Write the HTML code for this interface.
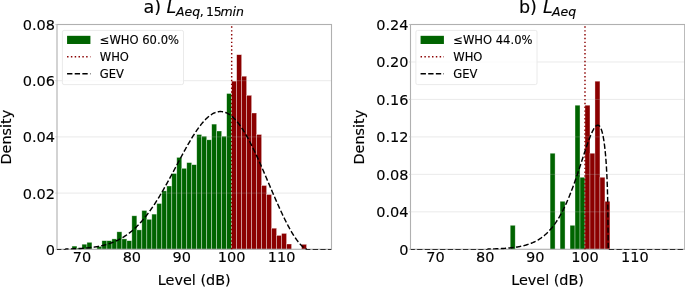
<!DOCTYPE html>
<html><head><meta charset="utf-8"><title>Level density</title>
<style>html,body{margin:0;padding:0;background:#fff}svg{display:block}text{font-family:"DejaVu Sans","Liberation Sans",sans-serif;fill:#000;stroke:#000;stroke-width:0.14px}</style>
</head><body>
<svg width="685" height="287" viewBox="0 0 685 287">
<rect width="685" height="287" fill="#fff"/>
<rect x="71.97" y="246.1" width="4.99" height="3.2" fill="#006400" stroke="#fff" stroke-width="0.6" stroke-opacity="0.58"/>
<rect x="76.96" y="248.1" width="4.99" height="1.2" fill="#006400" stroke="#fff" stroke-width="0.6" stroke-opacity="0.58"/>
<rect x="81.95" y="244.2" width="4.99" height="5.1" fill="#006400" stroke="#fff" stroke-width="0.6" stroke-opacity="0.58"/>
<rect x="86.95" y="242.3" width="4.99" height="7" fill="#006400" stroke="#fff" stroke-width="0.6" stroke-opacity="0.58"/>
<rect x="96.93" y="246.4" width="4.99" height="2.9" fill="#006400" stroke="#fff" stroke-width="0.6" stroke-opacity="0.58"/>
<rect x="101.92" y="240.7" width="4.99" height="8.6" fill="#006400" stroke="#fff" stroke-width="0.6" stroke-opacity="0.58"/>
<rect x="106.91" y="240.7" width="4.99" height="8.6" fill="#006400" stroke="#fff" stroke-width="0.6" stroke-opacity="0.58"/>
<rect x="111.9" y="238.9" width="4.99" height="10.4" fill="#006400" stroke="#fff" stroke-width="0.6" stroke-opacity="0.58"/>
<rect x="116.89" y="231.8" width="4.99" height="17.5" fill="#006400" stroke="#fff" stroke-width="0.6" stroke-opacity="0.58"/>
<rect x="121.88" y="238.9" width="4.99" height="10.4" fill="#006400" stroke="#fff" stroke-width="0.6" stroke-opacity="0.58"/>
<rect x="126.87" y="240.7" width="4.99" height="8.6" fill="#006400" stroke="#fff" stroke-width="0.6" stroke-opacity="0.58"/>
<rect x="131.86" y="215.8" width="4.99" height="33.5" fill="#006400" stroke="#fff" stroke-width="0.6" stroke-opacity="0.58"/>
<rect x="136.85" y="229.9" width="4.99" height="19.4" fill="#006400" stroke="#fff" stroke-width="0.6" stroke-opacity="0.58"/>
<rect x="141.85" y="210.5" width="4.99" height="38.8" fill="#006400" stroke="#fff" stroke-width="0.6" stroke-opacity="0.58"/>
<rect x="146.84" y="219.3" width="4.99" height="30" fill="#006400" stroke="#fff" stroke-width="0.6" stroke-opacity="0.58"/>
<rect x="151.83" y="214.1" width="4.99" height="35.2" fill="#006400" stroke="#fff" stroke-width="0.6" stroke-opacity="0.58"/>
<rect x="156.82" y="203.5" width="4.99" height="45.8" fill="#006400" stroke="#fff" stroke-width="0.6" stroke-opacity="0.58"/>
<rect x="161.81" y="190.9" width="4.99" height="58.4" fill="#006400" stroke="#fff" stroke-width="0.6" stroke-opacity="0.58"/>
<rect x="166.8" y="186" width="4.99" height="63.3" fill="#006400" stroke="#fff" stroke-width="0.6" stroke-opacity="0.58"/>
<rect x="171.79" y="173.5" width="4.99" height="75.8" fill="#006400" stroke="#fff" stroke-width="0.6" stroke-opacity="0.58"/>
<rect x="176.78" y="157.4" width="4.99" height="91.9" fill="#006400" stroke="#fff" stroke-width="0.6" stroke-opacity="0.58"/>
<rect x="181.77" y="168.3" width="4.99" height="81" fill="#006400" stroke="#fff" stroke-width="0.6" stroke-opacity="0.58"/>
<rect x="186.76" y="162.6" width="4.99" height="86.7" fill="#006400" stroke="#fff" stroke-width="0.6" stroke-opacity="0.58"/>
<rect x="191.75" y="164.7" width="4.99" height="84.6" fill="#006400" stroke="#fff" stroke-width="0.6" stroke-opacity="0.58"/>
<rect x="196.75" y="134.5" width="4.99" height="114.8" fill="#006400" stroke="#fff" stroke-width="0.6" stroke-opacity="0.58"/>
<rect x="201.74" y="136.2" width="4.99" height="113.1" fill="#006400" stroke="#fff" stroke-width="0.6" stroke-opacity="0.58"/>
<rect x="206.73" y="139.8" width="4.99" height="109.5" fill="#006400" stroke="#fff" stroke-width="0.6" stroke-opacity="0.58"/>
<rect x="211.72" y="124.1" width="4.99" height="125.2" fill="#006400" stroke="#fff" stroke-width="0.6" stroke-opacity="0.58"/>
<rect x="216.71" y="131" width="4.99" height="118.3" fill="#006400" stroke="#fff" stroke-width="0.6" stroke-opacity="0.58"/>
<rect x="221.7" y="136.2" width="4.99" height="113.1" fill="#006400" stroke="#fff" stroke-width="0.6" stroke-opacity="0.58"/>
<rect x="226.69" y="93.5" width="4.99" height="155.8" fill="#006400" stroke="#fff" stroke-width="0.6" stroke-opacity="0.58"/>
<rect x="231.68" y="81.1" width="4.99" height="168.2" fill="#8b0000" stroke="#fff" stroke-width="0.6" stroke-opacity="0.58"/>
<rect x="236.67" y="54.7" width="4.99" height="194.6" fill="#8b0000" stroke="#fff" stroke-width="0.6" stroke-opacity="0.58"/>
<rect x="241.66" y="76.2" width="4.99" height="173.1" fill="#8b0000" stroke="#fff" stroke-width="0.6" stroke-opacity="0.58"/>
<rect x="246.65" y="95.3" width="4.99" height="154" fill="#8b0000" stroke="#fff" stroke-width="0.6" stroke-opacity="0.58"/>
<rect x="251.65" y="113" width="4.99" height="136.3" fill="#8b0000" stroke="#fff" stroke-width="0.6" stroke-opacity="0.58"/>
<rect x="256.64" y="134.5" width="4.99" height="114.8" fill="#8b0000" stroke="#fff" stroke-width="0.6" stroke-opacity="0.58"/>
<rect x="261.63" y="185.5" width="4.99" height="63.8" fill="#8b0000" stroke="#fff" stroke-width="0.6" stroke-opacity="0.58"/>
<rect x="266.62" y="194.5" width="4.99" height="54.8" fill="#8b0000" stroke="#fff" stroke-width="0.6" stroke-opacity="0.58"/>
<rect x="271.61" y="228.2" width="4.99" height="21.1" fill="#8b0000" stroke="#fff" stroke-width="0.6" stroke-opacity="0.58"/>
<rect x="276.6" y="235.4" width="4.99" height="13.9" fill="#8b0000" stroke="#fff" stroke-width="0.6" stroke-opacity="0.58"/>
<rect x="281.59" y="233.4" width="4.99" height="15.9" fill="#8b0000" stroke="#fff" stroke-width="0.6" stroke-opacity="0.58"/>
<rect x="286.58" y="244" width="4.99" height="5.3" fill="#8b0000" stroke="#fff" stroke-width="0.6" stroke-opacity="0.58"/>
<rect x="301.55" y="244.3" width="4.99" height="5" fill="#8b0000" stroke="#fff" stroke-width="0.6" stroke-opacity="0.58"/>
<line x1="57" x2="331.5" y1="249.3" y2="249.3" stroke="#b0b0b0" stroke-opacity="0.27" stroke-width="1"/>
<line x1="57" x2="331.5" y1="193.1" y2="193.1" stroke="#b0b0b0" stroke-opacity="0.27" stroke-width="1"/>
<line x1="57" x2="331.5" y1="136.9" y2="136.9" stroke="#b0b0b0" stroke-opacity="0.27" stroke-width="1"/>
<line x1="57" x2="331.5" y1="80.7" y2="80.7" stroke="#b0b0b0" stroke-opacity="0.27" stroke-width="1"/>
<line x1="57" x2="331.5" y1="24.5" y2="24.5" stroke="#b0b0b0" stroke-opacity="0.27" stroke-width="1"/>
<rect x="57" y="24.5" width="274.5" height="224.8" fill="none" stroke="#b0b0b0" stroke-width="1.1"/>
<line x1="231.68" x2="231.68" y1="249.3" y2="24.5" stroke="#8b0000" stroke-width="1.441" stroke-dasharray="1.441 2.378"/>
<clipPath id="c57"><rect x="57" y="24.5" width="274.5" height="225.35"/></clipPath>
<polyline points="57,249.8 57.46,249.8 57.92,249.8 58.37,249.8 58.83,249.8 59.29,249.8 59.75,249.8 60.21,249.8 60.67,249.8 61.12,249.8 61.58,249.8 62.04,249.8 62.5,249.8 62.96,249.8 63.42,249.8 63.87,249.8 64.33,249.8 64.79,249.8 65.25,249.8 65.71,249.04 66.17,249.03 66.62,249.02 67.08,249.01 67.54,249 68,248.99 68.46,248.98 68.91,248.96 69.37,248.95 69.83,248.94 70.29,248.92 70.75,248.91 71.21,248.9 71.66,248.88 72.12,248.86 72.58,248.85 73.04,248.83 73.5,248.81 73.96,248.8 74.41,248.78 74.87,248.76 75.33,248.74 75.79,248.72 76.25,248.7 76.71,248.67 77.16,248.65 77.62,248.63 78.08,248.6 78.54,248.58 79,248.55 79.45,248.53 79.91,248.5 80.37,248.47 80.83,248.44 81.29,248.41 81.75,248.38 82.2,248.35 82.66,248.32 83.12,248.29 83.58,248.25 84.04,248.22 84.5,248.18 84.95,248.14 85.41,248.1 85.87,248.06 86.33,248.02 86.79,247.98 87.25,247.93 87.7,247.89 88.16,247.84 88.62,247.79 89.08,247.75 89.54,247.69 89.99,247.64 90.45,247.59 90.91,247.53 91.37,247.48 91.83,247.42 92.29,247.36 92.74,247.3 93.2,247.24 93.66,247.17 94.12,247.1 94.58,247.04 95.04,246.97 95.49,246.89 95.95,246.82 96.41,246.74 96.87,246.67 97.33,246.59 97.79,246.5 98.24,246.42 98.7,246.33 99.16,246.25 99.62,246.15 100.08,246.06 100.54,245.97 100.99,245.87 101.45,245.77 101.91,245.66 102.37,245.56 102.83,245.45 103.28,245.34 103.74,245.23 104.2,245.11 104.66,244.99 105.12,244.87 105.58,244.75 106.03,244.62 106.49,244.49 106.95,244.35 107.41,244.22 107.87,244.08 108.33,243.94 108.78,243.79 109.24,243.64 109.7,243.49 110.16,243.33 110.62,243.17 111.08,243.01 111.53,242.84 111.99,242.67 112.45,242.5 112.91,242.32 113.37,242.14 113.82,241.95 114.28,241.76 114.74,241.57 115.2,241.37 115.66,241.17 116.12,240.96 116.57,240.75 117.03,240.54 117.49,240.32 117.95,240.1 118.41,239.87 118.87,239.64 119.32,239.4 119.78,239.16 120.24,238.91 120.7,238.66 121.16,238.41 121.62,238.15 122.07,237.88 122.53,237.61 122.99,237.34 123.45,237.06 123.91,236.77 124.36,236.48 124.82,236.18 125.28,235.88 125.74,235.58 126.2,235.27 126.66,234.95 127.11,234.63 127.57,234.3 128.03,233.97 128.49,233.63 128.95,233.28 129.41,232.93 129.86,232.57 130.32,232.21 130.78,231.84 131.24,231.47 131.7,231.09 132.16,230.71 132.61,230.31 133.07,229.92 133.53,229.51 133.99,229.1 134.45,228.69 134.9,228.26 135.36,227.84 135.82,227.4 136.28,226.96 136.74,226.51 137.2,226.06 137.65,225.6 138.11,225.13 138.57,224.66 139.03,224.18 139.49,223.69 139.95,223.2 140.4,222.7 140.86,222.2 141.32,221.69 141.78,221.17 142.24,220.64 142.7,220.11 143.15,219.57 143.61,219.03 144.07,218.48 144.53,217.92 144.99,217.36 145.44,216.79 145.9,216.21 146.36,215.63 146.82,215.04 147.28,214.44 147.74,213.84 148.19,213.23 148.65,212.61 149.11,211.99 149.57,211.36 150.03,210.73 150.49,210.09 150.94,209.44 151.4,208.79 151.86,208.13 152.32,207.46 152.78,206.79 153.24,206.11 153.69,205.43 154.15,204.74 154.61,204.04 155.07,203.34 155.53,202.63 155.98,201.92 156.44,201.2 156.9,200.47 157.36,199.74 157.82,199.01 158.28,198.27 158.73,197.52 159.19,196.77 159.65,196.01 160.11,195.25 160.57,194.48 161.03,193.71 161.48,192.94 161.94,192.16 162.4,191.37 162.86,190.58 163.32,189.79 163.78,188.99 164.23,188.19 164.69,187.38 165.15,186.57 165.61,185.76 166.07,184.94 166.53,184.12 166.98,183.29 167.44,182.46 167.9,181.63 168.36,180.8 168.82,179.96 169.27,179.12 169.73,178.28 170.19,177.44 170.65,176.59 171.11,175.74 171.57,174.89 172.02,174.04 172.48,173.18 172.94,172.33 173.4,171.47 173.86,170.61 174.32,169.75 174.77,168.89 175.23,168.03 175.69,167.17 176.15,166.31 176.61,165.45 177.07,164.59 177.52,163.72 177.98,162.86 178.44,162 178.9,161.14 179.36,160.29 179.81,159.43 180.27,158.57 180.73,157.72 181.19,156.87 181.65,156.01 182.11,155.17 182.56,154.32 183.02,153.48 183.48,152.64 183.94,151.8 184.4,150.96 184.86,150.13 185.31,149.3 185.77,148.48 186.23,147.66 186.69,146.84 187.15,146.03 187.61,145.23 188.06,144.42 188.52,143.63 188.98,142.83 189.44,142.05 189.9,141.27 190.35,140.49 190.81,139.72 191.27,138.96 191.73,138.2 192.19,137.45 192.65,136.71 193.1,135.98 193.56,135.25 194.02,134.53 194.48,133.81 194.94,133.11 195.4,132.41 195.85,131.72 196.31,131.04 196.77,130.37 197.23,129.7 197.69,129.05 198.15,128.4 198.6,127.77 199.06,127.14 199.52,126.53 199.98,125.92 200.44,125.33 200.89,124.74 201.35,124.16 201.81,123.6 202.27,123.05 202.73,122.51 203.19,121.97 203.64,121.46 204.1,120.95 204.56,120.45 205.02,119.97 205.48,119.49 205.94,119.04 206.39,118.59 206.85,118.15 207.31,117.73 207.77,117.32 208.23,116.92 208.69,116.54 209.14,116.17 209.6,115.82 210.06,115.47 210.52,115.14 210.98,114.83 211.43,114.53 211.89,114.24 212.35,113.96 212.81,113.7 213.27,113.46 213.73,113.23 214.18,113.01 214.64,112.81 215.1,112.62 215.56,112.45 216.02,112.3 216.48,112.15 216.93,112.03 217.39,111.91 217.85,111.82 218.31,111.74 218.77,111.67 219.23,111.62 219.68,111.58 220.14,111.56 220.6,111.56 221.06,111.57 221.52,111.6 221.97,111.64 222.43,111.69 222.89,111.77 223.35,111.86 223.81,111.96 224.27,112.08 224.72,112.22 225.18,112.37 225.64,112.54 226.1,112.72 226.56,112.92 227.02,113.13 227.47,113.36 227.93,113.6 228.39,113.86 228.85,114.14 229.31,114.43 229.77,114.74 230.22,115.06 230.68,115.4 231.14,115.75 231.6,116.12 232.06,116.5 232.52,116.9 232.97,117.31 233.43,117.74 233.89,118.18 234.35,118.64 234.81,119.11 235.26,119.59 235.72,120.09 236.18,120.61 236.64,121.14 237.1,121.68 237.56,122.24 238.01,122.81 238.47,123.39 238.93,123.99 239.39,124.6 239.85,125.22 240.31,125.86 240.76,126.51 241.22,127.17 241.68,127.85 242.14,128.54 242.6,129.24 243.06,129.95 243.51,130.68 243.97,131.42 244.43,132.17 244.89,132.93 245.35,133.7 245.8,134.48 246.26,135.28 246.72,136.08 247.18,136.9 247.64,137.72 248.1,138.56 248.55,139.41 249.01,140.26 249.47,141.13 249.93,142.01 250.39,142.89 250.85,143.79 251.3,144.69 251.76,145.6 252.22,146.52 252.68,147.45 253.14,148.39 253.6,149.33 254.05,150.28 254.51,151.24 254.97,152.21 255.43,153.18 255.89,154.16 256.34,155.15 256.8,156.14 257.26,157.14 257.72,158.15 258.18,159.16 258.64,160.18 259.09,161.2 259.55,162.22 260.01,163.25 260.47,164.29 260.93,165.33 261.39,166.37 261.84,167.42 262.3,168.47 262.76,169.52 263.22,170.58 263.68,171.64 264.14,172.7 264.59,173.76 265.05,174.83 265.51,175.9 265.97,176.97 266.43,178.04 266.88,179.11 267.34,180.18 267.8,181.26 268.26,182.33 268.72,183.4 269.18,184.48 269.63,185.55 270.09,186.62 270.55,187.7 271.01,188.77 271.47,189.84 271.93,190.9 272.38,191.97 272.84,193.03 273.3,194.09 273.76,195.15 274.22,196.21 274.68,197.26 275.13,198.31 275.59,199.36 276.05,200.4 276.51,201.44 276.97,202.48 277.42,203.51 277.88,204.53 278.34,205.56 278.8,206.57 279.26,207.58 279.72,208.59 280.17,209.59 280.63,210.58 281.09,211.57 281.55,212.55 282.01,213.52 282.47,214.49 282.92,215.45 283.38,216.4 283.84,217.35 284.3,218.29 284.76,219.22 285.22,220.14 285.67,221.05 286.13,221.96 286.59,222.85 287.05,223.74 287.51,224.61 287.96,225.48 288.42,226.34 288.88,227.19 289.34,228.02 289.8,228.85 290.26,229.67 290.71,230.47 291.17,231.26 291.63,232.05 292.09,232.82 292.55,233.57 293.01,234.32 293.46,235.05 293.92,235.77 294.38,236.48 294.84,237.18 295.3,237.86 295.76,238.53 296.21,239.18 296.67,239.82 297.13,240.44 297.59,241.05 298.05,241.64 298.51,242.22 298.96,242.78 299.42,243.32 299.88,243.85 300.34,244.36 300.8,244.85 301.25,245.32 301.71,245.77 302.17,246.2 302.63,246.61 303.09,247 303.55,247.37 304,247.71 304.46,248.03 304.92,248.32 305.38,248.58 305.84,248.82 306.3,249.01 306.75,249.8 307.21,249.8 307.67,249.8 308.13,249.8 308.59,249.8 309.05,249.8 309.5,249.8 309.96,249.8 310.42,249.8 310.88,249.8 311.34,249.8 311.79,249.8 312.25,249.8 312.71,249.8 313.17,249.8 313.63,249.8 314.09,249.8 314.54,249.8 315,249.8 315.46,249.8 315.92,249.8 316.38,249.8 316.84,249.8 317.29,249.8 317.75,249.8 318.21,249.8 318.67,249.8 319.13,249.8 319.59,249.8 320.04,249.8 320.5,249.8 320.96,249.8 321.42,249.8 321.88,249.8 322.33,249.8 322.79,249.8 323.25,249.8 323.71,249.8 324.17,249.8 324.63,249.8 325.08,249.8 325.54,249.8 326,249.8 326.46,249.8 326.92,249.8 327.38,249.8 327.83,249.8 328.29,249.8 328.75,249.8 329.21,249.8 329.67,249.8 330.13,249.8 330.58,249.8 331.04,249.8 331.5,249.8" fill="none" stroke="#000" stroke-width="1.441" stroke-dasharray="5.33 2.31" stroke-linejoin="round" stroke-dashoffset="1.0" clip-path="url(#c57)"/>
<line x1="55.4" x2="57" y1="249.3" y2="249.3" stroke="#c4c4c4" stroke-width="0.9"/>
<line x1="55.4" x2="57" y1="193.1" y2="193.1" stroke="#c4c4c4" stroke-width="0.9"/>
<line x1="55.4" x2="57" y1="136.9" y2="136.9" stroke="#c4c4c4" stroke-width="0.9"/>
<line x1="55.4" x2="57" y1="80.7" y2="80.7" stroke="#c4c4c4" stroke-width="0.9"/>
<line x1="55.4" x2="57" y1="24.5" y2="24.5" stroke="#c4c4c4" stroke-width="0.9"/>
<text x="55" y="254.8" font-size="14.5" text-anchor="end">0</text>
<text x="55" y="198.6" font-size="14.5" text-anchor="end">0.02</text>
<text x="55" y="142.4" font-size="14.5" text-anchor="end">0.04</text>
<text x="55" y="86.2" font-size="14.5" text-anchor="end">0.06</text>
<text x="55" y="30" font-size="14.5" text-anchor="end">0.08</text>
<text x="81.95" y="262.3" font-size="14.5" text-anchor="middle">70</text>
<text x="131.86" y="262.3" font-size="14.5" text-anchor="middle">80</text>
<text x="181.77" y="262.3" font-size="14.5" text-anchor="middle">90</text>
<text x="231.68" y="262.3" font-size="14.5" text-anchor="middle">100</text>
<text x="281.59" y="262.3" font-size="14.5" text-anchor="middle">110</text>
<text x="194.25" y="285.1" font-size="14.4" text-anchor="middle">Level (dB)</text>
<text transform="translate(11,137.1) rotate(-90)" font-size="14.4" text-anchor="middle">Density</text>
<text y="13.4" font-size="17.5"><tspan x="143.5">a)</tspan><tspan x="166.6" font-style="italic">L</tspan><tspan font-size="12.5" dy="2.65" x="176.0" font-style="italic">Aeq</tspan><tspan font-size="12.5" x="199.8">,</tspan><tspan font-size="12.5" x="205.9">15</tspan><tspan font-size="12.5" x="220.4" font-style="italic">min</tspan></text>
<rect x="62.4" y="30.4" width="121.1" height="54.2" rx="1.7" ry="1.7" fill="#fff" fill-opacity="0.8" stroke="#eaeaea" stroke-width="1"/>
<rect x="67.07" y="35.82" width="23.34" height="8.17" fill="#006400"/>
<line x1="67.07" x2="90.41" y1="56.75" y2="56.75" stroke="#8b0000" stroke-width="1.441" stroke-dasharray="1.441 2.378"/>
<line x1="67.07" x2="90.41" y1="73.7" y2="73.7" stroke="#000" stroke-width="1.441" stroke-dasharray="5.33 2.31"/>
<text x="99.74" y="44.1" font-size="11.55">≤WHO 60.0%</text>
<text x="99.74" y="60.95" font-size="11.55">WHO</text>
<text x="99.74" y="77.9" font-size="11.55">GEV</text>
<rect x="510.21" y="225.28" width="4.99" height="24.02" fill="#006400" stroke="#fff" stroke-width="0.6" stroke-opacity="0.58"/>
<rect x="550.09" y="153.23" width="4.99" height="96.07" fill="#006400" stroke="#fff" stroke-width="0.6" stroke-opacity="0.58"/>
<rect x="560.06" y="201.27" width="4.99" height="48.03" fill="#006400" stroke="#fff" stroke-width="0.6" stroke-opacity="0.58"/>
<rect x="570.03" y="225.28" width="4.99" height="24.02" fill="#006400" stroke="#fff" stroke-width="0.6" stroke-opacity="0.58"/>
<rect x="575.02" y="105.2" width="4.99" height="144.1" fill="#006400" stroke="#fff" stroke-width="0.6" stroke-opacity="0.58"/>
<rect x="580.01" y="177.25" width="4.99" height="72.05" fill="#006400" stroke="#fff" stroke-width="0.6" stroke-opacity="0.58"/>
<rect x="584.99" y="105.2" width="4.99" height="144.1" fill="#8b0000" stroke="#fff" stroke-width="0.6" stroke-opacity="0.58"/>
<rect x="589.98" y="153.23" width="4.99" height="96.07" fill="#8b0000" stroke="#fff" stroke-width="0.6" stroke-opacity="0.58"/>
<rect x="594.96" y="81.18" width="4.99" height="168.12" fill="#8b0000" stroke="#fff" stroke-width="0.6" stroke-opacity="0.58"/>
<rect x="599.95" y="177.25" width="4.99" height="72.05" fill="#8b0000" stroke="#fff" stroke-width="0.6" stroke-opacity="0.58"/>
<rect x="604.93" y="201.27" width="4.99" height="48.03" fill="#8b0000" stroke="#fff" stroke-width="0.6" stroke-opacity="0.58"/>
<line x1="410.5" x2="684.7" y1="249.3" y2="249.3" stroke="#b0b0b0" stroke-opacity="0.27" stroke-width="1"/>
<line x1="410.5" x2="684.7" y1="211.83" y2="211.83" stroke="#b0b0b0" stroke-opacity="0.27" stroke-width="1"/>
<line x1="410.5" x2="684.7" y1="174.37" y2="174.37" stroke="#b0b0b0" stroke-opacity="0.27" stroke-width="1"/>
<line x1="410.5" x2="684.7" y1="136.9" y2="136.9" stroke="#b0b0b0" stroke-opacity="0.27" stroke-width="1"/>
<line x1="410.5" x2="684.7" y1="99.43" y2="99.43" stroke="#b0b0b0" stroke-opacity="0.27" stroke-width="1"/>
<line x1="410.5" x2="684.7" y1="61.97" y2="61.97" stroke="#b0b0b0" stroke-opacity="0.27" stroke-width="1"/>
<line x1="410.5" x2="684.7" y1="24.5" y2="24.5" stroke="#b0b0b0" stroke-opacity="0.27" stroke-width="1"/>
<rect x="410.5" y="24.5" width="274.2" height="224.8" fill="none" stroke="#b0b0b0" stroke-width="1.1"/>
<line x1="584.99" x2="584.99" y1="249.3" y2="24.5" stroke="#8b0000" stroke-width="1.441" stroke-dasharray="1.441 2.378"/>
<clipPath id="c410"><rect x="410.5" y="24.5" width="274.2" height="225.35"/></clipPath>
<polyline points="410.5,249.8 410.96,249.8 411.42,249.8 411.87,249.8 412.33,249.8 412.79,249.8 413.25,249.8 413.7,249.8 414.16,249.8 414.62,249.8 415.08,249.8 415.54,249.8 415.99,249.8 416.45,249.8 416.91,249.8 417.37,249.8 417.82,249.8 418.28,249.8 418.74,249.8 419.2,249.8 419.66,249.8 420.11,249.8 420.57,249.8 421.03,249.8 421.49,249.8 421.94,249.8 422.4,249.8 422.86,249.8 423.32,249.8 423.78,249.8 424.23,249.8 424.69,249.8 425.15,249.8 425.61,249.8 426.06,249.8 426.52,249.8 426.98,249.8 427.44,249.8 427.89,249.8 428.35,249.8 428.81,249.8 429.27,249.8 429.73,249.8 430.18,249.8 430.64,249.8 431.1,249.8 431.56,249.8 432.01,249.8 432.47,249.8 432.93,249.8 433.39,249.8 433.85,249.8 434.3,249.8 434.76,249.8 435.22,249.8 435.68,249.8 436.13,249.8 436.59,249.8 437.05,249.8 437.51,249.8 437.97,249.8 438.42,249.8 438.88,249.8 439.34,249.8 439.8,249.8 440.25,249.8 440.71,249.8 441.17,249.8 441.63,249.8 442.09,249.8 442.54,249.8 443,249.8 443.46,249.8 443.92,249.8 444.37,249.8 444.83,249.8 445.29,249.8 445.75,249.8 446.21,249.8 446.66,249.8 447.12,249.8 447.58,249.8 448.04,249.8 448.49,249.8 448.95,249.8 449.41,249.8 449.87,249.8 450.33,249.8 450.78,249.8 451.24,249.8 451.7,249.8 452.16,249.8 452.61,249.8 453.07,249.8 453.53,249.8 453.99,249.8 454.45,249.8 454.9,249.8 455.36,249.8 455.82,249.8 456.28,249.8 456.73,249.8 457.19,249.8 457.65,249.8 458.11,249.8 458.57,249.8 459.02,249.8 459.48,249.8 459.94,249.8 460.4,249.8 460.85,249.8 461.31,249.8 461.77,249.8 462.23,249.8 462.68,249.8 463.14,249.8 463.6,249.8 464.06,249.8 464.52,249.8 464.97,249.8 465.43,249.8 465.89,249.8 466.35,249.8 466.8,249.8 467.26,249.8 467.72,249.8 468.18,249.8 468.64,249.8 469.09,249.8 469.55,249.8 470.01,249.8 470.47,249.8 470.92,249.8 471.38,249.8 471.84,249.8 472.3,249.8 472.76,249.8 473.21,249.8 473.67,249.8 474.13,249.8 474.59,249.8 475.04,249.8 475.5,249.8 475.96,249.8 476.42,249.8 476.88,249.8 477.33,249.8 477.79,249.8 478.25,249.8 478.71,249.8 479.16,249.8 479.62,249.8 480.08,249.8 480.54,249.8 481,249.8 481.45,249.8 481.91,249.8 482.37,249.8 482.83,249.8 483.28,249.8 483.74,249.8 484.2,249.8 484.66,249.8 485.12,249.8 485.57,249.8 486.03,249.8 486.49,249.8 486.95,249.8 487.4,249.8 487.86,249.05 488.32,249.04 488.78,249.03 489.24,249.02 489.69,249.01 490.15,249 490.61,248.98 491.07,248.97 491.52,248.96 491.98,248.95 492.44,248.94 492.9,248.92 493.36,248.91 493.81,248.89 494.27,248.88 494.73,248.86 495.19,248.85 495.64,248.83 496.1,248.82 496.56,248.8 497.02,248.78 497.47,248.76 497.93,248.74 498.39,248.72 498.85,248.7 499.31,248.68 499.76,248.66 500.22,248.64 500.68,248.61 501.14,248.59 501.59,248.56 502.05,248.54 502.51,248.51 502.97,248.48 503.43,248.45 503.88,248.42 504.34,248.39 504.8,248.36 505.26,248.33 505.71,248.3 506.17,248.26 506.63,248.22 507.09,248.19 507.55,248.15 508,248.11 508.46,248.07 508.92,248.03 509.38,247.98 509.83,247.94 510.29,247.89 510.75,247.84 511.21,247.79 511.67,247.74 512.12,247.69 512.58,247.64 513.04,247.58 513.5,247.52 513.95,247.46 514.41,247.4 514.87,247.34 515.33,247.27 515.79,247.21 516.24,247.14 516.7,247.07 517.16,246.99 517.62,246.92 518.07,246.84 518.53,246.76 518.99,246.67 519.45,246.59 519.91,246.5 520.36,246.41 520.82,246.31 521.28,246.22 521.74,246.12 522.19,246.02 522.65,245.91 523.11,245.8 523.57,245.69 524.03,245.58 524.48,245.46 524.94,245.34 525.4,245.21 525.86,245.08 526.31,244.95 526.77,244.81 527.23,244.67 527.69,244.53 528.15,244.38 528.6,244.22 529.06,244.07 529.52,243.9 529.98,243.74 530.43,243.57 530.89,243.39 531.35,243.21 531.81,243.02 532.26,242.83 532.72,242.64 533.18,242.43 533.64,242.23 534.1,242.01 534.55,241.8 535.01,241.57 535.47,241.34 535.93,241.1 536.38,240.86 536.84,240.61 537.3,240.35 537.76,240.09 538.22,239.82 538.67,239.54 539.13,239.26 539.59,238.97 540.05,238.67 540.5,238.36 540.96,238.05 541.42,237.72 541.88,237.39 542.34,237.05 542.79,236.71 543.25,236.35 543.71,235.98 544.17,235.61 544.62,235.23 545.08,234.83 545.54,234.43 546,234.02 546.46,233.6 546.91,233.17 547.37,232.72 547.83,232.27 548.29,231.81 548.74,231.33 549.2,230.85 549.66,230.35 550.12,229.85 550.58,229.33 551.03,228.8 551.49,228.25 551.95,227.7 552.41,227.13 552.86,226.55 553.32,225.96 553.78,225.36 554.24,224.74 554.7,224.11 555.15,223.46 555.61,222.81 556.07,222.13 556.53,221.45 556.98,220.75 557.44,220.04 557.9,219.31 558.36,218.57 558.82,217.81 559.27,217.04 559.73,216.25 560.19,215.45 560.65,214.64 561.1,213.81 561.56,212.96 562.02,212.1 562.48,211.22 562.94,210.33 563.39,209.42 563.85,208.49 564.31,207.55 564.77,206.6 565.22,205.62 565.68,204.64 566.14,203.63 566.6,202.61 567.05,201.58 567.51,200.53 567.97,199.46 568.43,198.38 568.89,197.28 569.34,196.16 569.8,195.03 570.26,193.89 570.72,192.73 571.17,191.55 571.63,190.36 572.09,189.16 572.55,187.94 573.01,186.71 573.46,185.46 573.92,184.2 574.38,182.93 574.84,181.65 575.29,180.35 575.75,179.04 576.21,177.72 576.67,176.39 577.13,175.05 577.58,173.7 578.04,172.34 578.5,170.97 578.96,169.59 579.41,168.21 579.87,166.82 580.33,165.43 580.79,164.03 581.25,162.63 581.7,161.23 582.16,159.83 582.62,158.42 583.08,157.02 583.53,155.62 583.99,154.23 584.45,152.84 584.91,151.46 585.37,150.08 585.82,148.72 586.28,147.37 586.74,146.03 587.2,144.71 587.65,143.4 588.11,142.12 588.57,140.85 589.03,139.62 589.49,138.41 589.94,137.23 590.4,136.08 590.86,134.97 591.32,133.89 591.77,132.86 592.23,131.87 592.69,130.94 593.15,130.05 593.61,129.22 594.06,128.46 594.52,127.76 594.98,127.13 595.44,126.58 595.89,126.11 596.35,125.72 596.81,125.43 597.27,125.24 597.73,125.17 598.18,125.2 598.64,125.37 599.1,125.67 599.56,126.11 600.01,126.72 600.47,127.5 600.93,128.46 601.39,129.63 601.84,131.03 602.3,132.67 602.76,134.6 603.22,136.83 603.68,139.41 604.13,142.39 604.59,145.84 605.05,149.86 605.51,154.55 605.96,160.11 606.42,166.84 606.88,175.28 607.34,186.63 607.8,205.05 608.25,249.8 608.71,249.8 609.17,249.8 609.63,249.8 610.08,249.8 610.54,249.8 611,249.8 611.46,249.8 611.92,249.8 612.37,249.8 612.83,249.8 613.29,249.8 613.75,249.8 614.2,249.8 614.66,249.8 615.12,249.8 615.58,249.8 616.04,249.8 616.49,249.8 616.95,249.8 617.41,249.8 617.87,249.8 618.32,249.8 618.78,249.8 619.24,249.8 619.7,249.8 620.16,249.8 620.61,249.8 621.07,249.8 621.53,249.8 621.99,249.8 622.44,249.8 622.9,249.8 623.36,249.8 623.82,249.8 624.28,249.8 624.73,249.8 625.19,249.8 625.65,249.8 626.11,249.8 626.56,249.8 627.02,249.8 627.48,249.8 627.94,249.8 628.4,249.8 628.85,249.8 629.31,249.8 629.77,249.8 630.23,249.8 630.68,249.8 631.14,249.8 631.6,249.8 632.06,249.8 632.52,249.8 632.97,249.8 633.43,249.8 633.89,249.8 634.35,249.8 634.8,249.8 635.26,249.8 635.72,249.8 636.18,249.8 636.63,249.8 637.09,249.8 637.55,249.8 638.01,249.8 638.47,249.8 638.92,249.8 639.38,249.8 639.84,249.8 640.3,249.8 640.75,249.8 641.21,249.8 641.67,249.8 642.13,249.8 642.59,249.8 643.04,249.8 643.5,249.8 643.96,249.8 644.42,249.8 644.87,249.8 645.33,249.8 645.79,249.8 646.25,249.8 646.71,249.8 647.16,249.8 647.62,249.8 648.08,249.8 648.54,249.8 648.99,249.8 649.45,249.8 649.91,249.8 650.37,249.8 650.83,249.8 651.28,249.8 651.74,249.8 652.2,249.8 652.66,249.8 653.11,249.8 653.57,249.8 654.03,249.8 654.49,249.8 654.95,249.8 655.4,249.8 655.86,249.8 656.32,249.8 656.78,249.8 657.23,249.8 657.69,249.8 658.15,249.8 658.61,249.8 659.07,249.8 659.52,249.8 659.98,249.8 660.44,249.8 660.9,249.8 661.35,249.8 661.81,249.8 662.27,249.8 662.73,249.8 663.19,249.8 663.64,249.8 664.1,249.8 664.56,249.8 665.02,249.8 665.47,249.8 665.93,249.8 666.39,249.8 666.85,249.8 667.31,249.8 667.76,249.8 668.22,249.8 668.68,249.8 669.14,249.8 669.59,249.8 670.05,249.8 670.51,249.8 670.97,249.8 671.42,249.8 671.88,249.8 672.34,249.8 672.8,249.8 673.26,249.8 673.71,249.8 674.17,249.8 674.63,249.8 675.09,249.8 675.54,249.8 676,249.8 676.46,249.8 676.92,249.8 677.38,249.8 677.83,249.8 678.29,249.8 678.75,249.8 679.21,249.8 679.66,249.8 680.12,249.8 680.58,249.8 681.04,249.8 681.5,249.8 681.95,249.8 682.41,249.8 682.87,249.8 683.33,249.8 683.78,249.8 684.24,249.8 684.7,249.8" fill="none" stroke="#000" stroke-width="1.441" stroke-dasharray="5.33 2.31" stroke-linejoin="round" stroke-dashoffset="1.0" clip-path="url(#c410)"/>
<line x1="408.9" x2="410.5" y1="249.3" y2="249.3" stroke="#c4c4c4" stroke-width="0.9"/>
<line x1="408.9" x2="410.5" y1="211.83" y2="211.83" stroke="#c4c4c4" stroke-width="0.9"/>
<line x1="408.9" x2="410.5" y1="174.37" y2="174.37" stroke="#c4c4c4" stroke-width="0.9"/>
<line x1="408.9" x2="410.5" y1="136.9" y2="136.9" stroke="#c4c4c4" stroke-width="0.9"/>
<line x1="408.9" x2="410.5" y1="99.43" y2="99.43" stroke="#c4c4c4" stroke-width="0.9"/>
<line x1="408.9" x2="410.5" y1="61.97" y2="61.97" stroke="#c4c4c4" stroke-width="0.9"/>
<line x1="408.9" x2="410.5" y1="24.5" y2="24.5" stroke="#c4c4c4" stroke-width="0.9"/>
<text x="408.5" y="254.8" font-size="14.5" text-anchor="end">0</text>
<text x="408.5" y="217.33" font-size="14.5" text-anchor="end">0.04</text>
<text x="408.5" y="179.87" font-size="14.5" text-anchor="end">0.08</text>
<text x="408.5" y="142.4" font-size="14.5" text-anchor="end">0.12</text>
<text x="408.5" y="104.93" font-size="14.5" text-anchor="end">0.16</text>
<text x="408.5" y="67.47" font-size="14.5" text-anchor="end">0.20</text>
<text x="408.5" y="30" font-size="14.5" text-anchor="end">0.24</text>
<text x="435.43" y="262.3" font-size="14.5" text-anchor="middle">70</text>
<text x="485.28" y="262.3" font-size="14.5" text-anchor="middle">80</text>
<text x="535.14" y="262.3" font-size="14.5" text-anchor="middle">90</text>
<text x="584.99" y="262.3" font-size="14.5" text-anchor="middle">100</text>
<text x="634.85" y="262.3" font-size="14.5" text-anchor="middle">110</text>
<text x="547.6" y="285.1" font-size="14.4" text-anchor="middle">Level (dB)</text>
<text transform="translate(363.9,137.1) rotate(-90)" font-size="14.4" text-anchor="middle">Density</text>
<text y="13.4" font-size="17.5"><tspan x="519">b)</tspan><tspan x="542.9" font-style="italic">L</tspan><tspan font-size="12.5" dy="2.65" x="551.9" font-style="italic">Aeq</tspan></text>
<rect x="415.9" y="30.4" width="121.1" height="54.2" rx="1.7" ry="1.7" fill="#fff" fill-opacity="0.8" stroke="#eaeaea" stroke-width="1"/>
<rect x="420.57" y="35.82" width="23.34" height="8.17" fill="#006400"/>
<line x1="420.57" x2="443.91" y1="56.75" y2="56.75" stroke="#8b0000" stroke-width="1.441" stroke-dasharray="1.441 2.378"/>
<line x1="420.57" x2="443.91" y1="73.7" y2="73.7" stroke="#000" stroke-width="1.441" stroke-dasharray="5.33 2.31"/>
<text x="453.24" y="44.1" font-size="11.55">≤WHO 44.0%</text>
<text x="453.24" y="60.95" font-size="11.55">WHO</text>
<text x="453.24" y="77.9" font-size="11.55">GEV</text>
</svg>
</body></html>
